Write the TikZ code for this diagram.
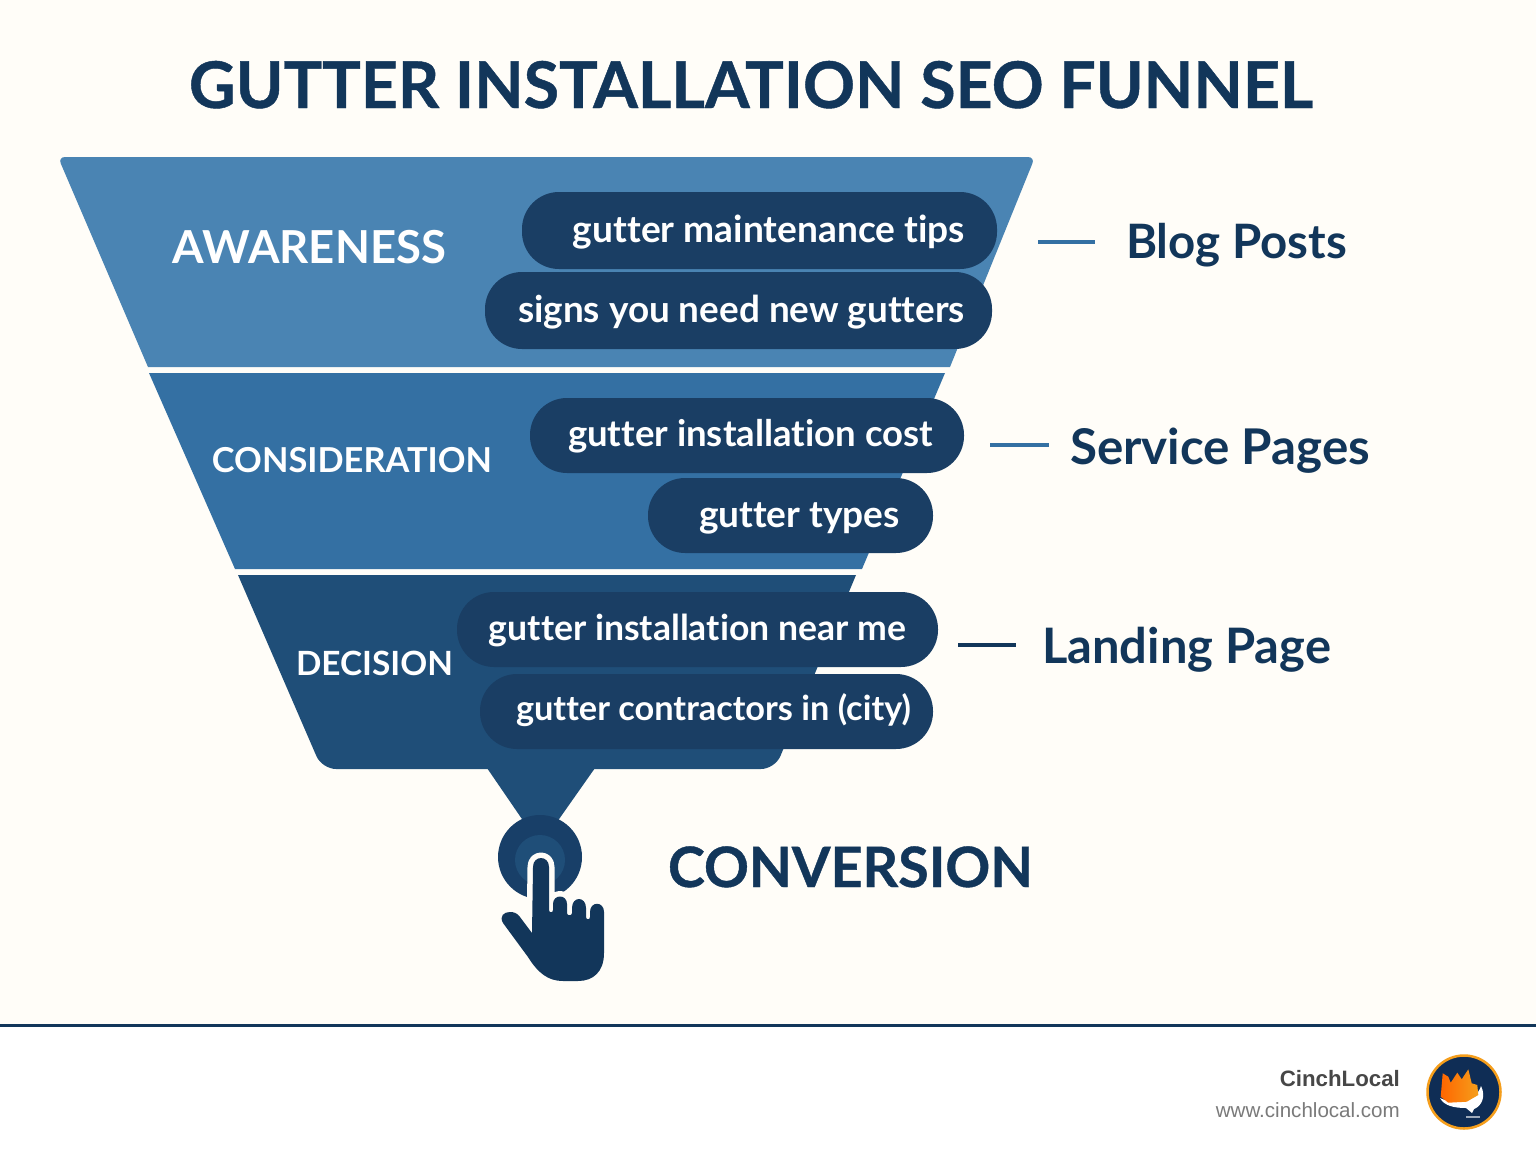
\documentclass[tikz,border=0pt]{standalone}
\usepackage{fontspec}
\usepackage{graphicx}
\setmainfont[Ligatures={NoCommon,NoContextual}]{Lato}
\newfontfamily\footfont{Liberation Sans}
\definecolor{paper}{HTML}{FFFDF8}
\definecolor{navy}{HTML}{12365A}
\definecolor{bandA}{HTML}{4A84B3}
\definecolor{bandB}{HTML}{3470A3}
\definecolor{bandC}{HTML}{1F4E78}
\definecolor{pillc}{HTML}{1A3E64}
\definecolor{ringc}{HTML}{183F68}
\definecolor{logon}{HTML}{0F2D55}
\definecolor{logoo}{HTML}{F59E1B}
\newcommand{\fitw}[2]{\resizebox{#1pt}{!}{#2}}
\newcommand{\heavier}{\bfseries\addfontfeature{FakeBold=0.7}}
\tikzset{
  x=1pt,y=-1pt,
  pilltxt/.style={anchor=base,inner sep=0pt,text=white,font=\bfseries\fontsize{38}{38}\selectfont},
  stagetxt/.style={anchor=base,inner sep=0pt,text=white,font=\bfseries\fontsize{38}{38}\selectfont},
  kindtxt/.style={anchor=base,inner sep=0pt,text=navy,font=\bfseries\fontsize{46}{46}\selectfont},
  pillbox/.style={fill=pillc,rounded corners=37pt},
  tick/.style={line width=4pt},
}
\begin{document}
\begin{tikzpicture}
\useasboundingbox (0,0) rectangle (1536,1154);
\fill[paper] (0,0) rectangle (1536,1025);
\fill[white] (0,1025) rectangle (1536,1154);
\fill[navy] (0,1024) rectangle (1536,1027);

\node[anchor=base,inner sep=0pt,text=navy,font=\heavier\fontsize{64}{64}\selectfont] (title) at (751,108) {\fitw{1124}{GUTTER INSTALLATION SEO FUNNEL}};

% funnel bands
\fill[bandA] (148,367) [rounded corners=7pt] -- (58,157) -- (1035,157) [sharp corners] -- (950,367) -- cycle;
\fill[bandB] (149,373) -- (945,373) -- (862,569) -- (235,569) -- cycle;
\fill[bandC] (238,575) -- (856,575) [rounded corners=14pt] -- (775,769) -- (322,769) [sharp corners] -- cycle;
\fill[bandC] (487,768) -- (595,768) -- (557,822) -- (524,822) -- cycle;

% pills
\fill[pillbox] (522,192) rectangle (997,269);
\fill[pillbox] (485,272) rectangle (992,349);
\fill[pillbox] (530,398) rectangle (964,473);
\fill[pillbox] (648,478) rectangle (933,553);
\fill[pillbox] (457,592) rectangle (938,667);
\fill[pillbox] (480,674) rectangle (933,749);

\node[pilltxt] (p1) at (769,242) {\fitw{392}{gutter maintenance tips}};
\node[pilltxt] (p2) at (741.5,322) {\fitw{447}{signs you need new gutters}};
\node[pilltxt] (p3) at (750.5,446) {\fitw{365}{gutter installation cost}};
\node[pilltxt] (p4) at (799.5,527) {\fitw{201}{gutter types}};
\node[pilltxt] (p5) at (697.5,640) {\fitw{417}{gutter installation near me}};
\node[pilltxt] (p6) at (713.5,720) {\fitw{395}{gutter contractors in (city)}};

\node[stagetxt] (s1) at (309.5,263) {\fitw{273}{AWARENESS}};
\node[stagetxt] (s2) at (352,472) {\fitw{280}{CONSIDERATION}};
\node[stagetxt] (s3) at (374.5,675) {\fitw{157}{DECISION}};

\node[kindtxt] (k1) at (1236.5,258) {\fitw{221}{Blog Posts}};
\node[kindtxt] (k2) at (1220,464) {\fitw{300}{Service Pages}};
\node[kindtxt] (k3) at (1186.5,663) {\fitw{289}{Landing Page}};

\coordinate (t1a) at (1038,242); \coordinate (t1b) at (1095,242);
\coordinate (t2a) at (990,445);  \coordinate (t2b) at (1049,445);
\coordinate (t3a) at (958,645);  \coordinate (t3b) at (1016,645);
\draw[tick,color=bandB] (t1a) -- (t1b);
\draw[tick,color=bandB] (t2a) -- (t2b);
\draw[tick,color=navy] (t3a) -- (t3b);

% conversion button and hand
\fill[ringc] (540,857) circle (42);
\fill[bandC] (540,860) circle (25);
\def\handpath{(520,917) -- (532,933) -- (533,867) .. controls (533,855) and (549,855) .. (549,867)
 -- (549,910) .. controls (549,913) and (553,913) .. (553,910)
 -- (553,904) .. controls (553,894) and (567,894) .. (567,904)
 -- (567,913) .. controls (567,916) and (572,916) .. (572,913)
 -- (572,908) .. controls (572,896) and (586,896) .. (586,908)
 -- (586,917) .. controls (586,920) and (590,920) .. (590,917)
 -- (590,912) .. controls (590,901) and (604,901) .. (604,912)
 -- (604,953) .. controls (604,972) and (593,981) .. (578,981)
 -- (563,981) .. controls (548,981) and (538,973) .. (528,957)
 -- (503,923) .. controls (499,916) and (504,912) .. (510,912)
 .. controls (514,912) and (517,913) .. (520,917) -- cycle}
\draw[paper,line width=11pt,line join=round] \handpath;
\fill[navy] \handpath;

\node[anchor=base,inner sep=0pt,text=navy,font=\heavier\fontsize{60}{60}\selectfont] (conv) at (850.5,887) {\fitw{365}{CONVERSION}};

% footer
\node[anchor=base east,inner sep=0pt,text=black!72,font=\footfont\bfseries\fontsize{24}{24}\selectfont] (brand) at (1400,1086) {\fitw{120}{CinchLocal}};
\node[anchor=base east,inner sep=0pt,text=black!52,font=\footfont\fontsize{21}{21}\selectfont] (url) at (1400,1117) {\fitw{184}{www.cinchlocal.com}};

\fill[logon] (1464,1092) circle (37);
\draw[logoo,line width=2.5pt] (1464,1092) circle (36.5);
\fill[white] (1440,1098) .. controls (1452,1104) and (1476,1103) .. (1481,1086)
 .. controls (1486,1096) and (1482,1106) .. (1474,1109) -- (1472,1113) -- (1466,1108)
 .. controls (1455,1108) and (1444,1106) .. (1440,1098) -- cycle;
\shade[left color=orange!80!red,right color=logoo] (1442.7,1073.3) -- (1448.3,1076.7) -- (1450.7,1082.7) -- (1457.3,1072.7) -- (1461.7,1079.3) -- (1468.3,1069.3) -- (1471.7,1083.3) -- (1477.3,1085) -- (1478.3,1095) -- (1466.7,1101.7) -- (1448.3,1102.7) -- (1440.7,1096.7) -- cycle;
\fill[white,opacity=.6] (1466,1116) rectangle (1480,1117.5);
\end{tikzpicture}
\end{document}
